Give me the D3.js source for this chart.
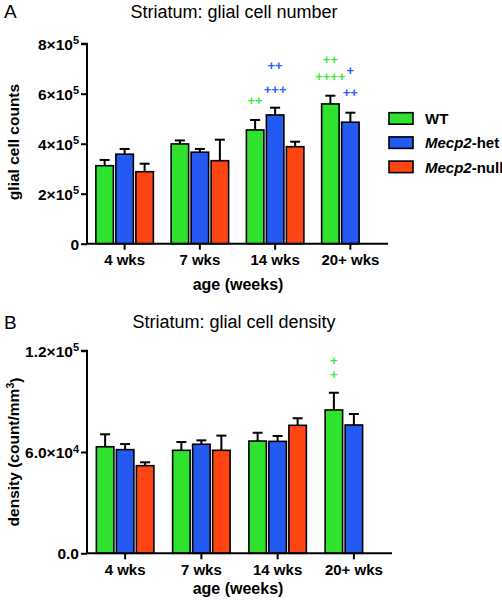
<!DOCTYPE html>
<html>
<head>
<meta charset="utf-8">
<script src="https://cdn.jsdelivr.net/npm/d3@7"></script>
<style>
  body { margin: 0; background: #fff; }
  svg { display: block; font-family: "Liberation Sans", Arial, sans-serif; }
</style>
</head>
<body>
<svg id="chart" width="502" height="600"></svg>
<script>
// ---------- data ----------
const categories = ["4 wks", "7 wks", "14 wks", "20+ wks"];
const seriesNames = ["WT", "Mecp2-het", "Mecp2-null"];
const seriesColors = ["#2ee22e", "#2459f2", "#ff4512"];
const markColors = ["#3bea3b", "#2a5eff"];

// Panel A: glial cell number (mean, SEM)
const countWT = [312000, 399000, 455000, 559000];
const countWTErr = [23000, 14000, 40000, 33000];
const countHet = [358000, 366000, 515000, 486000];
const countHetErr = [21000, 13000, 29000, 38000];
const countNull = [288000, 332000, 388000, null];
const countNullErr = [32000, 84000, 20000, null];
const countTicks = [0, 200000, 400000, 600000, 800000];

// Panel B: glial cell density (mean, SEM)
const densWT = [63100, 61000, 66500, 84900];
const densWTErr = [7400, 4900, 4900, 10200];
const densHet = [61400, 64600, 66300, 76000];
const densHetErr = [3300, 2300, 3200, 6500];
const densNull = [51900, 61000, 75800, null];
const densNullErr = [2000, 8700, 4200, null];
const densTicks = [0, 60000, 120000];

// significance marks (value = level where the mark sits)
const countMarks = [
  { cat: "14 wks", s: 0, text: "++", value: 572000 },
  { cat: "14 wks", s: 1, text: "+++", value: 619000 },
  { cat: "14 wks", s: 1, text: "++", value: 712000 },
  { cat: "20+ wks", s: 0, text: "++++", value: 668000 },
  { cat: "20+ wks", s: 0, text: "++", value: 738000 },
  { cat: "20+ wks", s: 1, text: "++", value: 606000 },
  { cat: "20+ wks", s: 1, text: "+", value: 695000 }
];
const densMarks = [
  { cat: "20+ wks", s: 0, text: "+", value: 106000 },
  { cat: "20+ wks", s: 0, text: "+", value: 114500 }
];

const svg = d3.select("#chart");

function buildRows(means, errs) {
  const rows = [];
  categories.forEach((c, i) => {
    means.forEach((m, s) => {
      if (m[i] != null) rows.push({ cat: c, s: s, mean: m[i], err: errs[s][i] });
    });
  });
  return rows;
}

function drawPanel(opt) {
  const g = svg.append("g");
  const x = d3.scaleBand().domain(categories).range([opt.x0, opt.x1]).paddingInner(0).paddingOuter(0);
  const bw = x.bandwidth();
  const xs = d3.scaleBand().domain(d3.range(3)).range([bw / 2 - 28.75, bw / 2 + 28.75]).paddingInner(0.125);
  const y = d3.scaleLinear().domain([0, opt.ymax]).range([opt.y0, opt.y1]);

  const rows = buildRows(opt.means, opt.errs);

  // bars
  g.selectAll("rect.bar").data(rows).join("rect")
    .attr("class", "bar")
    .attr("x", d => x(d.cat) + xs(d.s))
    .attr("width", xs.bandwidth())
    .attr("y", d => y(d.mean))
    .attr("height", d => y(0) - y(d.mean))
    .attr("fill", d => seriesColors[d.s])
    .attr("stroke", "#000")
    .attr("stroke-width", 1.6);

  // error bars
  const eb = g.selectAll("g.err").data(rows).join("g").attr("class", "err");
  eb.append("line")
    .attr("x1", d => x(d.cat) + xs(d.s) + xs.bandwidth() / 2)
    .attr("x2", d => x(d.cat) + xs(d.s) + xs.bandwidth() / 2)
    .attr("y1", d => y(d.mean))
    .attr("y2", d => y(d.mean + d.err))
    .attr("stroke", "#000").attr("stroke-width", 2);
  eb.append("line")
    .attr("x1", d => x(d.cat) + xs(d.s) + xs.bandwidth() / 2 - 5)
    .attr("x2", d => x(d.cat) + xs(d.s) + xs.bandwidth() / 2 + 5)
    .attr("y1", d => y(d.mean + d.err))
    .attr("y2", d => y(d.mean + d.err))
    .attr("stroke", "#000").attr("stroke-width", 2);

  // y axis
  const yAxis = d3.axisLeft(y).tickValues(opt.ticks).tickSize(6).tickFormat("");
  const ya = g.append("g").attr("transform", `translate(${opt.x0},0)`).call(yAxis);
  ya.select(".domain").attr("stroke", "#000").attr("stroke-width", 2).attr("d", `M-6,${opt.y1}H0V${opt.y0}`);
  ya.selectAll(".tick line").attr("stroke", "#000").attr("stroke-width", 2);
  ya.selectAll(".tick").each(function (v) {
    const t = d3.select(this).append("text")
      .attr("x", -8).attr("dy", "0.36em")
      .attr("text-anchor", "end")
      .attr("fill", "#000")
      .attr("font-size", "15.5px").attr("font-weight", "bold");
    const lab = opt.tickLabel(v);
    t.append("tspan").text(lab[0]);
    if (lab[1]) {
      t.append("tspan").attr("dy", "-0.5em").attr("font-size", "11px").text(lab[1]);
    }
  });

  // x axis
  const xAxis = d3.axisBottom(x).tickSize(6).tickSizeOuter(0).tickFormat("");
  const xa = g.append("g").attr("transform", `translate(0,${opt.y0})`).call(xAxis);
  xa.select(".domain").attr("stroke", "#000").attr("stroke-width", 2).attr("d", `M${opt.x0 - 1},0H${opt.x1}`);
  xa.selectAll(".tick line").attr("stroke", "#000").attr("stroke-width", 2);
  xa.selectAll(".tick").append("text")
    .attr("y", opt.tickY).attr("text-anchor", "middle")
    .attr("fill", "#000").attr("font-size", "15px").attr("font-weight", "bold")
    .text(d => d);

  // axis titles
  g.append("text").attr("x", 238).attr("y", opt.xTitleY)
    .attr("text-anchor", "middle").attr("font-size", "16px").attr("font-weight", "bold")
    .text("age (weeks)");
  const yt = g.append("text")
    .attr("transform", `translate(19,${opt.yTitleC}) rotate(-90)`)
    .attr("text-anchor", "middle").attr("font-size", "15.5px").attr("font-weight", "bold");
  yt.append("tspan").text(opt.yTitle[0]);
  if (opt.yTitle[1]) {
    yt.append("tspan").attr("dy", "-0.45em").attr("font-size", "10.5px").text(opt.yTitle[1]);
    yt.append("tspan").attr("dy", "0.45em").text(opt.yTitle[2]);
  }

  // chart title and panel letter
  g.append("text").attr("x", 234).attr("y", opt.titleY)
    .attr("text-anchor", "middle").attr("font-size", "18px")
    .text(opt.title);
  g.append("text").attr("x", 4).attr("y", opt.titleY + 0.5)
    .attr("font-size", "19px").text(opt.letter);

  // significance marks
  g.selectAll("text.mark").data(opt.marks).join("text")
    .attr("class", "mark")
    .attr("x", d => x(d.cat) + xs(d.s) + xs.bandwidth() / 2)
    .attr("y", d => y(d.value))
    .attr("dy", "0.36em")
    .attr("text-anchor", "middle")
    .attr("font-size", "13px").attr("font-weight", "bold")
    .attr("fill", d => markColors[d.s])
    .text(d => d.text);
}

function sciLabel(v) {
  if (v === 0) return ["0"];
  const e = Math.floor(Math.log10(v));
  const m = v / Math.pow(10, e);
  return [m + "\u00d710", String(e)];
}
function sciLabel1(v) {
  if (v === 0) return ["0.0"];
  const e = Math.floor(Math.log10(v));
  const m = v / Math.pow(10, e);
  return [m.toFixed(1) + "\u00d710", String(e)];
}

drawPanel({
  letter: "A", title: "Striatum: glial cell number", titleY: 17.5,
  x0: 87, x1: 388, y0: 243.7, y1: 43.7, ymax: 800000,
  means: [countWT, countHet, countNull], errs: [countWTErr, countHetErr, countNullErr],
  ticks: countTicks, tickLabel: sciLabel, tickY: 21.5, xTitleY: 290,
  yTitle: ["glial cell counts"], yTitleC: 142, marks: countMarks
});
drawPanel({
  letter: "B", title: "Striatum: glial cell density", titleY: 328,
  x0: 87, x1: 392, y0: 553.3, y1: 350.7, ymax: 120000,
  means: [densWT, densHet, densNull], errs: [densWTErr, densHetErr, densNullErr],
  ticks: densTicks, tickLabel: sciLabel1, tickY: 21.5, xTitleY: 594,
  yTitle: ["density (count/mm", "3", ")"], yTitleC: 452, marks: densMarks
});

// legend
const legend = svg.append("g").attr("transform", "translate(389,112.7)");
const li = legend.selectAll("g").data(seriesNames).join("g")
  .attr("transform", (d, i) => `translate(0,${i * 24.2})`);
li.append("rect").attr("width", 24).attr("height", 11.5)
  .attr("fill", (d, i) => seriesColors[i]).attr("stroke", "#000").attr("stroke-width", 1.6);
li.each(function (d) {
  const t = d3.select(this).append("text").attr("x", 36).attr("y", 6).attr("dy", "0.36em")
    .attr("font-size", "15px").attr("font-weight", "bold");
  const parts = d.split("-");
  if (parts.length > 1) {
    t.append("tspan").attr("font-style", "italic").text(parts[0]);
    t.append("tspan").text("-" + parts[1]);
  } else {
    t.text(d);
  }
});
</script>
</body>
</html>
